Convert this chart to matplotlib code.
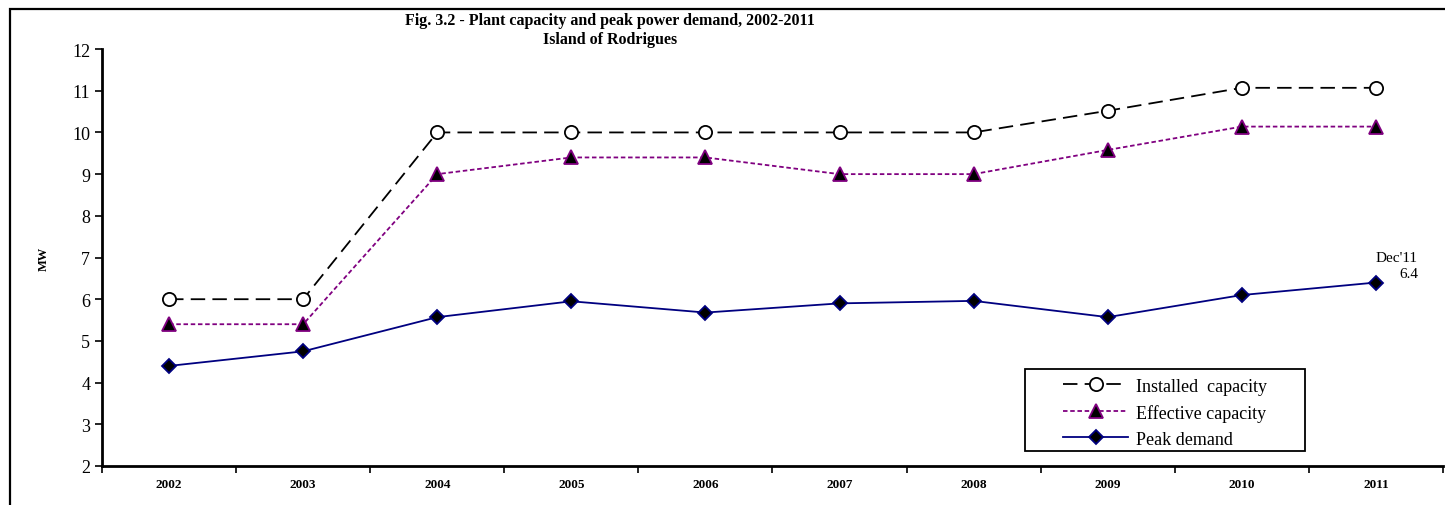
import numpy as np
import matplotlib.pyplot as plt
from matplotlib.patches import Rectangle

plt.rcParams['font.family'] = ['Liberation Serif', 'DejaVu Serif']

years = ['2002', '2003', '2004', '2005', '2006', '2007', '2008', '2009', '2010', '2011']
installed = [6.0, 6.0, 10.0, 10.0, 10.0, 10.0, 10.0, 10.52, 11.07, 11.07]
effective = [5.4, 5.4, 9.0, 9.4, 9.4, 9.0, 9.0, 9.58, 10.14, 10.14]
peak = [4.4, 4.75, 5.57, 5.95, 5.68, 5.9, 5.96, 5.57, 6.1, 6.4]
yticks = [2, 3, 4, 5, 6, 7, 8, 9, 10, 11, 12]

x = np.arange(len(years))

fig = plt.figure(figsize=(14.45, 5.06), dpi=100)
ax = fig.add_axes([0.0706, 0.0771, 0.928, 0.824])

ax.plot(x, installed, color='black', lw=1.3, dashes=(8, 4),
        marker='o', ms=9.5, mfc='white', mec='black', mew=1.3,
        label='Installed  capacity')
ax.plot(x, effective, color='#800080', lw=1.3, dashes=(2.5, 1.5),
        marker='^', ms=9.5, mfc='black', mec='#800080', mew=1.3,
        label='Effective capacity')
ax.plot(x, peak, color='#000080', lw=1.3,
        marker='D', ms=7.5, mfc='black', mec='#000080', mew=1.3,
        label='Peak demand')

ax.annotate("Dec'11\n6.4", xy=(x[-1], peak[-1]), xytext=(0, 2),
            textcoords='offset points', ha='left', va='bottom',
            fontsize=11, multialignment='right', linespacing=1.3)

ax.set_xlim(-0.5, len(years) - 0.5)
ax.set_ylim(2, 12)
ax.set_yticks(yticks)
ax.tick_params(axis='y', labelsize=13, direction='out', length=5, width=1.2)

ax.set_xticks(np.arange(len(years) + 1) - 0.5)
ax.set_xticklabels([])
ax.set_xticks(x, minor=True)
ax.set_xticklabels(years, minor=True, fontsize=9.5, fontweight='bold')
ax.tick_params(axis='x', which='major', direction='out', length=5, width=1.2)
ax.tick_params(axis='x', which='minor', length=0, pad=9)

for s in ['top', 'right']:
    ax.spines[s].set_visible(False)
for s in ['left', 'bottom']:
    ax.spines[s].set_linewidth(2)

ax.set_ylabel('MW', fontsize=9, fontweight='bold', labelpad=16)

ax.legend(loc='center left', bbox_to_anchor=(0.717, 0.128), fontsize=13,
          frameon=False, handlelength=3.6, handletextpad=0.4,
          borderpad=0, borderaxespad=0, labelspacing=0.5)
ax.add_patch(Rectangle((0.688, 0.036), 0.209, 0.197, transform=ax.transAxes,
                       fill=False, edgecolor='black', lw=1.3, clip_on=False))

fig.text(0.422, 0.975, 'Fig. 3.2 - Plant capacity and peak power demand, 2002-2011\nIsland of Rodrigues',
         ha='center', va='top', fontsize=11.5, fontweight='bold', linespacing=1.3)

fig.add_artist(Rectangle((10 / 1445, -0.2), 1.2, 1.2 - 10 / 506, transform=fig.transFigure,
                         fill=False, edgecolor='black', lw=1.6, clip_on=False))

fig.savefig('out.png', dpi=100)
